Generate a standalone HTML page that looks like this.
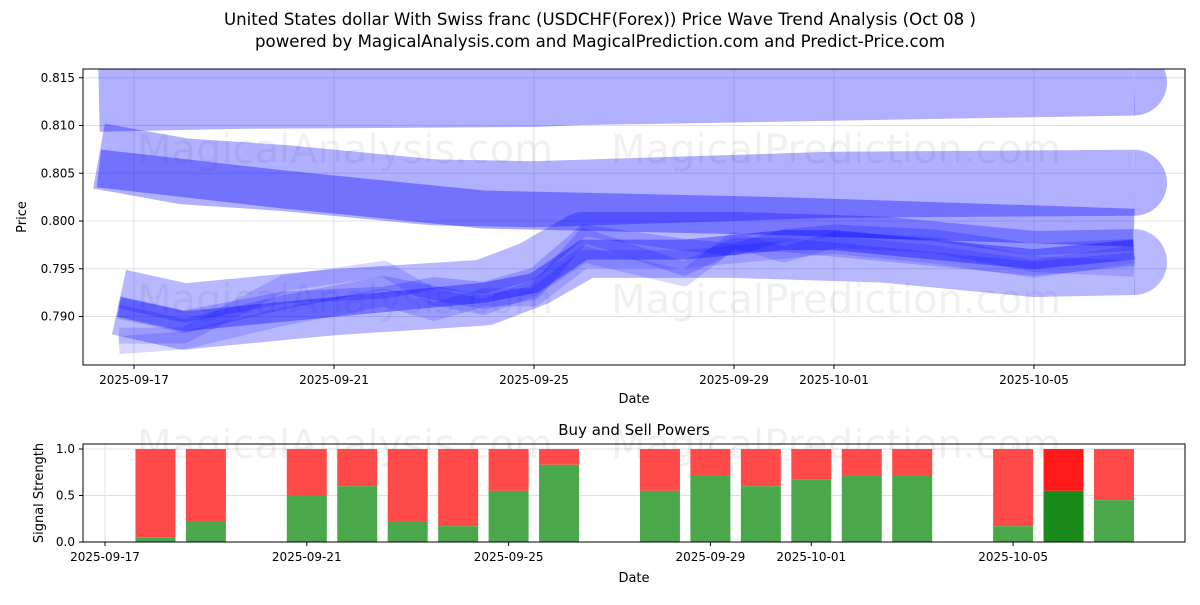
<!DOCTYPE html>
<html><head><meta charset="utf-8"><style>
body{margin:0;background:#fff;font-family:"Liberation Sans","DejaVu Sans",sans-serif}
svg text{font-family:"DejaVu Sans","Liberation Sans",sans-serif}
</style></head><body>
<svg id="c" width="1200" height="600" viewBox="0 0 1200 600" xmlns="http://www.w3.org/2000/svg">
<text x="600" y="25" text-anchor="middle" font-size="16.5" textLength="752" lengthAdjust="spacingAndGlyphs">United States dollar With Swiss franc (USDCHF(Forex)) Price Wave Trend Analysis (Oct 08 )</text>
<text x="600" y="47" text-anchor="middle" font-size="16.5" textLength="690" lengthAdjust="spacingAndGlyphs">powered by MagicalAnalysis.com and MagicalPrediction.com and Predict-Price.com</text>
<defs><clipPath id="mc"><rect x="83" y="69" width="1102" height="296"/></clipPath></defs>
<g id="main"></g>
<g id="sub"></g>
</svg>
<script>
// ---- data ----
const mainYTicks=[0.790,0.795,0.800,0.805,0.810,0.815];
const mainXTickDays=[0,4,8,12,14,18];
const mainXTickLabels=["2025-09-17","2025-09-21","2025-09-25","2025-09-29","2025-10-01","2025-10-05"];
const bandTopDays=[-0.7,2,8,9,20];
const bandTopVals=[0.8128,0.8131,0.8133,0.8135,0.8145];
const bandMidDays=[-0.7,1,3,6,8,11,14,20];
const bandMidVals=[0.8068,0.8052,0.8045,0.8030,0.8028,0.8033,0.8038,0.8040];
const bandDarkDays=[-0.7,3,7,13,20];
const bandDarkVals=[0.8055,0.8033,0.8012,0.8005,0.7993];
const waveDays=[-0.3,1,3,5,6,7,8,9,11,12,13,14,16,18,20];
const waveA=[0.7910,0.7895,0.7905,0.7915,0.7920,0.7925,0.7935,0.7970,0.7970,0.7975,0.7980,0.7980,0.7970,0.7960,0.7970];
const waveB=[0.7905,0.7890,0.7915,0.7935,0.7925,0.7915,0.7925,0.7985,0.7950,0.7975,0.7975,0.7970,0.7960,0.7950,0.7960];
const waveC=[0.7880,0.7880,0.7935,0.7950,0.7920,0.7910,0.7930,0.7965,0.7940,0.7980,0.7965,0.7980,0.7975,0.7955,0.7950];
const waveD=[0.7915,0.7900,0.7920,0.7925,0.7935,0.7930,0.7945,0.7990,0.7975,0.7970,0.7985,0.7990,0.7985,0.7970,0.7975];
const waveE=[0.7870,0.7875,0.7900,0.7920,0.7905,0.7920,0.7920,0.7960,0.7960,0.7965,0.7970,0.7975,0.7965,0.7950,0.7965];
const bandLowDays=[-0.3,1,4,7,8,9,12,15,18,20];
const bandLowVals=[0.7915,0.7900,0.7915,0.7925,0.7945,0.7975,0.7975,0.7970,0.7955,0.7957];
const sigDays=[1,2,4,5,6,7,8,9,11,12,13,14,15,16,18,19,20];
const sigBuy=[0.05,0.22,0.50,0.60,0.22,0.17,0.55,0.83,0.55,0.72,0.60,0.67,0.72,0.72,0.17,0.55,0.45];
const subYTicks=[0.0,0.5,1.0];
const subYLabels=["0.0","0.5","1.0"];
const subXTickDays=[0,4,8,12,14,18];
// ---- scales ----
const xM=d=>134+50*d, yM=v=>221-(v-0.800)*9550;
const xS=d=>105+50.45*d, yS=v=>542-v*93;
const NS="http://www.w3.org/2000/svg";
const mk=(p,t,a)=>{const e=document.createElementNS(NS,t);for(const k in a)e.setAttribute(k,a[k]);p.appendChild(e);return e;};
const main=document.getElementById('main'), sub=document.getElementById('sub');
mainYTicks.forEach((v,i)=>{
  const l=mk(main,'line',{x1:83,x2:1185,y1:yM(v),y2:yM(v),stroke:'#e0e0e0','stroke-width':1});
  
  
  mk(main,'line',{x1:79,x2:83,y1:yM(v),y2:yM(v),stroke:'#000'});
  const t=mk(main,'text',{x:75,y:yM(v)+4,'text-anchor':'end','font-size':12});
  t.textContent=v.toFixed(3);
  
  
});
mainXTickDays.forEach((d,i)=>{
  const l=mk(main,'line',{x1:xM(d),x2:xM(d),y1:69,y2:365,stroke:'#e0e0e0'});
  
  
  mk(main,'line',{x1:xM(d),x2:xM(d),y1:365,y2:369,stroke:'#000'});
  const t=mk(main,'text',{x:xM(d),y:384,'text-anchor':'middle','font-size':12});
  t.textContent=mainXTickLabels[i];
  
  
});
const g=mk(main,'g',{'clip-path':'url(#mc)'});


const wm1=mk(g,'text',{x:345,y:163,'text-anchor':'middle','font-size':40,fill:'#000','fill-opacity':0.06});wm1.textContent='MagicalAnalysis.com';

const wm2=mk(g,'text',{x:836,y:163,'text-anchor':'middle','font-size':40,fill:'#000','fill-opacity':0.06});wm2.textContent='MagicalPrediction.com';

const wm3=mk(g,'text',{x:345,y:313,'text-anchor':'middle','font-size':40,fill:'#000','fill-opacity':0.06});wm3.textContent='MagicalAnalysis.com';

const wm4=mk(g,'text',{x:836,y:313,'text-anchor':'middle','font-size':40,fill:'#000','fill-opacity':0.06});wm4.textContent='MagicalPrediction.com';

function line(days,vals,w,op,name,cap){
  const pts=days.map((d,i)=>xM(d)+','+yM(vals[i])).join(' ');
  const p=mk(g,'polyline',{points:pts,fill:'none',stroke:'#0000ff','stroke-opacity':op,'stroke-width':w,'stroke-linejoin':'round','stroke-linecap':cap||'butt'});
  
  
}
function capEnd(days,vals,r,op){
  const n=days.length-1;
  mk(g,'path',{d:`M${xM(days[n])},${yM(vals[n])-r} A${r},${r} 0 0 1 ${xM(days[n])},${yM(vals[n])+r} Z`,fill:'#0000ff','fill-opacity':op});
}
line(bandTopDays,bandTopVals,66,0.31,'wave-band-top');capEnd(bandTopDays,bandTopVals,33,0.31);
line(bandMidDays,bandMidVals,66,0.31,'wave-band-mid');capEnd(bandMidDays,bandMidVals,33,0.31);
line(bandDarkDays,bandDarkVals,38,0.35,'wave-band-dark');
line(bandLowDays,bandLowVals,66,0.28,'wave-band-low');capEnd(bandLowDays,bandLowVals,33,0.28);
[waveA,waveB,waveC,waveD,waveE].forEach((w,i)=>line(waveDays,w,[20,14,16,12,18][i],[0.35,0.18,0.15,0.2,0.15][i],'wave-line'));
mk(main,'rect',{x:83,y:69,width:1102,height:296,fill:'none',stroke:'#000'});
const yt=mk(main,'text',{x:26,y:217,'text-anchor':'middle','font-size':13,transform:'rotate(-90 26 217)'});yt.textContent='Price';

const xt=mk(main,'text',{x:634,y:403,'text-anchor':'middle','font-size':13});xt.textContent='Date';

// sub chart
const st=mk(sub,'text',{x:634,y:435,'text-anchor':'middle','font-size':15});st.textContent='Buy and Sell Powers';

subYTicks.forEach((v,i)=>{
  const l=mk(sub,'line',{x1:83,x2:1185,y1:yS(v),y2:yS(v),stroke:'#e0e0e0'});
  
  mk(sub,'line',{x1:79,x2:83,y1:yS(v),y2:yS(v),stroke:'#000'});
  const t=mk(sub,'text',{x:75,y:yS(v)+4,'text-anchor':'end','font-size':12});t.textContent=subYLabels[i];
  
});
subXTickDays.forEach((d,i)=>{
  const l=mk(sub,'line',{x1:xS(d),x2:xS(d),y1:444,y2:542,stroke:'#e0e0e0'});
  
  mk(sub,'line',{x1:xS(d),x2:xS(d),y1:542,y2:546,stroke:'#000'});
  const t=mk(sub,'text',{x:xS(d),y:561,'text-anchor':'middle','font-size':12});t.textContent=mainXTickLabels[i];
  
});
const w1=mk(sub,'text',{x:345,y:458,'text-anchor':'middle','font-size':40,'fill-opacity':0.06});w1.textContent='MagicalAnalysis.com';

const w2=mk(sub,'text',{x:836,y:458,'text-anchor':'middle','font-size':40,'fill-opacity':0.06});w2.textContent='MagicalPrediction.com';

sigDays.forEach((d,i)=>{
  const hl=d===19;
  const x=xS(d)-20;
  const r=mk(sub,'rect',{x:x,y:yS(1),width:40,height:yS(sigBuy[i])-yS(1),fill:hl?'#ff1a1a':'#ff4a4a'});
  
  const b=mk(sub,'rect',{x:x,y:yS(sigBuy[i]),width:40,height:yS(0)-yS(sigBuy[i]),fill:hl?'#1a8a1a':'#4aa84a'});
  
});
mk(sub,'rect',{x:83,y:444,width:1102,height:98,fill:'none',stroke:'#000'});
const syt=mk(sub,'text',{x:43,y:493,'text-anchor':'middle','font-size':13,transform:'rotate(-90 43 493)'});syt.textContent='Signal Strength';

const sxt=mk(sub,'text',{x:634,y:582,'text-anchor':'middle','font-size':13});sxt.textContent='Date';

</script>
</body></html>
